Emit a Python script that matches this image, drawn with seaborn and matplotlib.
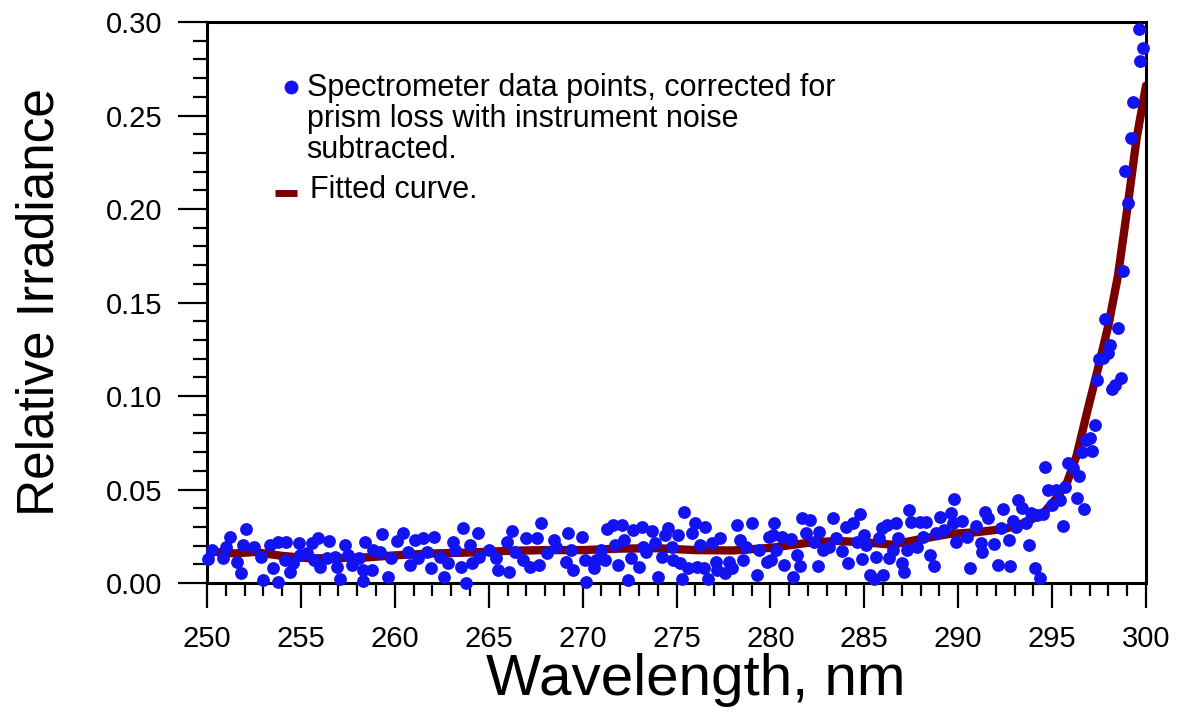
import matplotlib
matplotlib.use("Agg")
import matplotlib.pyplot as plt
import pandas as pd
import seaborn as sns
from matplotlib.ticker import MultipleLocator, FormatStrFormatter

# Spectrometer points (wavelength nm, relative irradiance)
wavelength = [
    250.25, 250.07, 250.87, 251.22, 251.0, 252.1, 251.6, 251.8, 251.9, 252.5,
    252.9, 253.0, 253.35, 253.8, 253.8, 253.5, 254.2, 254.15, 254.4, 254.9,
    254.95, 254.6, 255.3, 255.6, 255.9, 255.7, 256.0, 256.5, 256.4, 256.8,
    256.9, 257.1, 257.35, 257.5, 257.7, 258.1, 258.3, 258.4, 258.3, 258.8,
    258.85, 259.3, 259.2, 259.8, 259.65,
    260.1, 260.45, 260.7, 260.8, 261.1, 261.5, 261.25, 261.7, 261.9, 262.1,
    262.4, 262.6, 262.85, 263.1, 263.2, 263.5, 263.65, 263.8, 264.0, 264.1,
    264.45, 264.5, 265.0, 265.4, 265.5, 265.95, 266.1, 266.25, 266.4, 266.85,
    267.0, 267.2, 267.55, 267.8, 267.7, 268.1, 268.45, 268.6, 269.1, 269.2,
    269.5, 269.4, 269.95, 270.1, 270.2,
    270.6, 270.7, 271.0, 271.3, 271.2, 271.6, 271.7, 271.9, 272.1, 272.2,
    272.4, 272.6, 272.7, 273.0, 273.15, 273.2, 273.4, 273.7, 273.85, 274.0,
    274.2, 274.4, 274.55, 274.75, 274.8, 275.1, 275.2, 275.3, 275.4, 275.6,
    275.8, 276.0, 276.1, 276.25, 276.5, 276.45, 276.7, 276.9, 277.1, 277.3,
    277.15, 277.6, 277.8, 277.95, 278.2, 278.4, 278.55, 278.7, 279.0, 279.3,
    279.4, 279.8, 279.95, 280.2, 280.3,
    280.15, 280.05, 280.6, 280.7, 281.1, 281.2, 281.4, 281.6, 281.7, 281.9,
    282.1, 282.3, 282.55, 282.6, 282.8, 283.1, 283.35, 283.5, 283.8, 284.0,
    284.15, 284.4, 284.75, 284.6, 284.85, 285.0, 285.1, 285.3, 285.5, 285.6,
    285.8, 285.95, 286.0, 286.3, 286.2, 286.5, 286.7, 286.8, 287.0, 287.1,
    287.25, 287.4, 287.5, 287.8, 287.95, 288.1, 288.3, 288.5, 288.7, 288.8,
    289.05, 289.25, 289.6, 289.7, 289.75, 289.9, 290.2, 290.45, 290.6,
    290.95, 291.2, 291.25, 291.45, 291.6, 291.9, 292.1, 292.3, 292.4, 292.7,
    292.75, 292.9, 293.1, 293.2, 293.4, 293.6, 293.75, 293.9, 294.1, 294.35,
    294.2, 294.5, 294.6, 294.8, 295.0, 295.2, 295.4, 295.6, 295.7, 295.85,
    296.1, 296.3, 296.45, 296.7, 296.6, 296.8, 297.1, 297.0, 297.3,
    299.6, 299.85, 299.7, 299.3, 299.2, 298.9, 299.05, 298.75, 297.8, 298.5,
    298.1, 297.95, 297.5, 297.7, 297.4, 298.65, 298.35, 298.2,
]
irradiance = [
    0.0176, 0.0128, 0.0132, 0.0248, 0.0194, 0.0289, 0.0114, 0.0055, 0.0203, 0.0194,
    0.0141, 0.0016, 0.0203, 0.0220, 0.0007, 0.0079, 0.0220, 0.0123, 0.0060, 0.0212,
    0.0150, 0.0105, 0.0159, 0.0212, 0.0239, 0.0123, 0.0087, 0.0225, 0.0132, 0.0141,
    0.0087, 0.0021, 0.0203, 0.0150, 0.0096, 0.0132, 0.0070, 0.0220, 0.0010, 0.0070,
    0.0176, 0.0260, 0.0168, 0.0132, 0.0034,
    0.0225, 0.0266, 0.0168, 0.0096, 0.0230, 0.0239, 0.0132, 0.0168, 0.0082, 0.0248,
    0.0141, 0.0030, 0.0105, 0.0220, 0.0176, 0.0084, 0.0292, 0.0002, 0.0203, 0.0105,
    0.0266, 0.0141, 0.0176, 0.0132, 0.0070, 0.0220, 0.0060, 0.0280, 0.0168, 0.0123,
    0.0242, 0.0087, 0.0239, 0.0319, 0.0096, 0.0159, 0.0230, 0.0194, 0.0114, 0.0266,
    0.0070, 0.0176, 0.0248, 0.0123, 0.0007,
    0.0079, 0.0123, 0.0176, 0.0287, 0.0123, 0.0310, 0.0203, 0.0096, 0.0310, 0.0230,
    0.0016, 0.0132, 0.0283, 0.0087, 0.0301, 0.0194, 0.0168, 0.0280, 0.0216, 0.0030,
    0.0141, 0.0257, 0.0292, 0.0194, 0.0123, 0.0257, 0.0105, 0.0020, 0.0381, 0.0079,
    0.0266, 0.0319, 0.0087, 0.0203, 0.0301, 0.0082, 0.0021, 0.0212, 0.0114, 0.0239,
    0.0070, 0.0052, 0.0114, 0.0079, 0.0310, 0.0230, 0.0123, 0.0194, 0.0322, 0.0043,
    0.0176, 0.0114, 0.0248, 0.0319, 0.0176,
    0.0257, 0.0123, 0.0248, 0.0096, 0.0234, 0.0034, 0.0150, 0.0091, 0.0346, 0.0266,
    0.0337, 0.0220, 0.0091, 0.0274, 0.0176, 0.0194, 0.0349, 0.0239, 0.0173, 0.0301,
    0.0105, 0.0319, 0.0367, 0.0220, 0.0128, 0.0257, 0.0203, 0.0043, 0.0020, 0.0141,
    0.0239, 0.0292, 0.0043, 0.0132, 0.0310, 0.0176, 0.0322, 0.0239, 0.0105, 0.0060,
    0.0176, 0.0390, 0.0324, 0.0194, 0.0324, 0.0248, 0.0328, 0.0150, 0.0091, 0.0266,
    0.0355, 0.0283, 0.0373, 0.0319, 0.0448, 0.0220, 0.0333, 0.0248, 0.0079,
    0.0305, 0.0212, 0.0168, 0.0381, 0.0346, 0.0209, 0.0096, 0.0296, 0.0394, 0.0230,
    0.0091, 0.0333, 0.0298, 0.0444, 0.0400, 0.0319, 0.0202, 0.0373, 0.0079, 0.0025,
    0.0364, 0.0369, 0.0622, 0.0497, 0.0417, 0.0497, 0.0444, 0.0305, 0.0515, 0.0643,
    0.0613, 0.0453, 0.0572, 0.0394, 0.0702, 0.0765, 0.0707, 0.0777, 0.0845,
    0.2963, 0.2863, 0.2793, 0.2574, 0.2378, 0.2203, 0.2030, 0.1668, 0.1410, 0.1362,
    0.1273, 0.1228, 0.1196, 0.1202, 0.1086, 0.1095, 0.1059, 0.1037,
]

# Fitted curve, read at a set of wavelengths
fit_wavelength = [250, 251.5, 252.5, 254, 255.5, 257, 258.5, 260, 262, 264, 266, 268,
                  270, 272, 274, 276, 278, 280, 282, 283.5, 285, 286.5, 288, 289.5,
                  291, 292.5, 293.5, 294.5, 295.2, 295.8, 296.3, 296.9, 297.5, 298,
                  298.5, 299, 299.5, 300]
fit_irradiance = [0.0170, 0.0158, 0.0166, 0.0145, 0.0132, 0.0133, 0.0137, 0.0148, 0.0158,
                  0.0163, 0.0172, 0.0176, 0.0176, 0.0184, 0.0186, 0.0176, 0.0174, 0.0188,
                  0.0215, 0.0225, 0.0218, 0.0205, 0.0235, 0.0262, 0.0272, 0.0290, 0.0320,
                  0.0370, 0.0450, 0.0540, 0.0680, 0.0930, 0.1170, 0.1380, 0.1640, 0.2000,
                  0.2380, 0.2660]

points = pd.DataFrame({"wl": wavelength, "irr": irradiance})
fit = pd.DataFrame({"wl": fit_wavelength, "irr": fit_irradiance})

sns.set_style("white")
plt.rcParams["font.family"] = ["Liberation Sans", "DejaVu Sans"]
plt.rcParams["text.color"] = "black"
plt.rcParams["axes.labelcolor"] = "black"
plt.rcParams["xtick.color"] = "black"
plt.rcParams["ytick.color"] = "black"

blue = "#1212f2"
dark_red = "#7a0000"

fig = plt.figure(figsize=(11.81, 7.18), dpi=100)
ax = fig.add_axes([0.1753, 0.188, 0.7951, 0.7813])

sns.lineplot(data=fit, x="wl", y="irr", color=dark_red, linewidth=6, ax=ax, zorder=2)
sns.scatterplot(data=points, x="wl", y="irr", color=blue, s=85, linewidth=0, ax=ax,
                zorder=3, clip_on=False)

ax.set_xlim(250, 300)
ax.set_ylim(0, 0.30)
ax.xaxis.set_major_locator(MultipleLocator(5))
ax.xaxis.set_minor_locator(MultipleLocator(1))
ax.yaxis.set_major_locator(MultipleLocator(0.05))
ax.yaxis.set_minor_locator(MultipleLocator(0.01))
ax.yaxis.set_major_formatter(FormatStrFormatter("%.2f"))

for side in ax.spines.values():
    side.set_color("black")
    side.set_linewidth(2.2)

ax.tick_params(axis="both", which="both", direction="out", color="black", width=1.6,
               bottom=True, left=True, top=False, right=False, labelsize=21,
               labelcolor="black")
ax.tick_params(axis="y", which="major", length=21, pad=11)
ax.tick_params(axis="y", which="minor", length=10)
ax.tick_params(axis="x", which="major", length=18, pad=12)
ax.tick_params(axis="x", which="minor", length=9)

ax.set_xlabel("Wavelength, nm", fontsize=42)
ax.set_ylabel("Relative Irradiance", fontsize=37, labelpad=30)
ax.xaxis.set_label_coords(0.52, -0.125)

# legend drawn by hand, like the original
ax.plot([0.0891], [0.8847], marker="o", markersize=9, color=blue, linestyle="none",
        transform=ax.transAxes, clip_on=False)
ax.text(0.1060, 0.7576,
        "Spectrometer data points, corrected for\nprism loss with instrument noise\nsubtracted.",
        transform=ax.transAxes, fontsize=22, va="baseline", ha="left", linespacing=1.05)
ax.plot([0.0724, 0.0958], [0.6952, 0.6952], color=dark_red, linewidth=5,
        transform=ax.transAxes, solid_capstyle="butt")
ax.text(0.1097, 0.6863, "Fitted curve.", transform=ax.transAxes, fontsize=22,
        va="baseline", ha="left")

fig.savefig("out.png", dpi=100)
